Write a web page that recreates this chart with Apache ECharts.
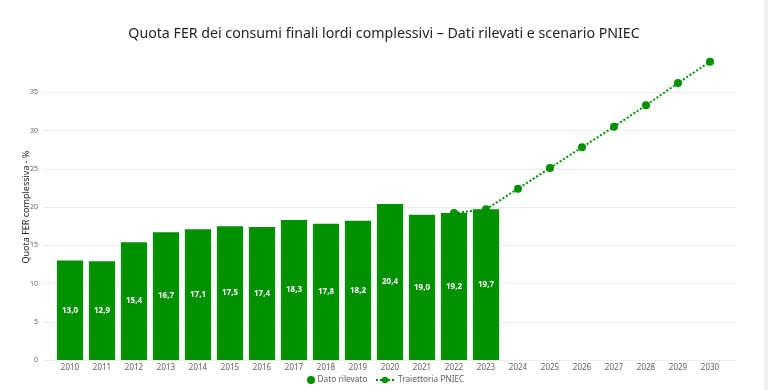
<!DOCTYPE html>
<html>
<head>
<meta charset="utf-8">
<script src="https://cdn.jsdelivr.net/npm/echarts@6/dist/echarts.min.js"></script>
<style>
html,body{margin:0;padding:0;background:#fff;}
#c{width:768px;height:390px;}
</style>
</head>
<body>
<div id="c"></div>
<script>
const years = ['2010','2011','2012','2013','2014','2015','2016','2017','2018','2019','2020','2021','2022','2023','2024','2025','2026','2027','2028','2029','2030'];
const datoRilevato = [13.0,12.9,15.4,16.7,17.1,17.5,17.4,18.3,17.8,18.2,20.4,19.0,19.2,19.7,null,null,null,null,null,null,null];
const traiettoria = [null,null,null,null,null,null,null,null,null,null,null,null,19.2,19.7,22.4,25.1,27.8,30.5,33.3,36.2,39.0];
const yTicks = [0,5,10,15,20,25,30,35];

const GREEN = '#009100';
const FONT = '"Noto Sans", "Open Sans", sans-serif';
const chart = echarts.init(document.getElementById('c'), null, {renderer:'canvas'});
chart.setOption({
  backgroundColor:'#ffffff',
  animation:false,
  textStyle:{fontFamily:FONT},
  title:{
    text:'Quota FER dei consumi finali lordi complessivi – Dati rilevati e scenario PNIEC',
    left:'center', top:22,
    textStyle:{fontFamily:FONT,fontSize:14.2,fontWeight:'normal',color:'#252423'}
  },
  legend:[
    {
      bottom:1, left:302,
      itemGap:0, itemWidth:9, itemHeight:8,
      textStyle:{fontFamily:FONT,fontSize:8.3,color:'#605E5C',padding:[0,0,0,-3]},
      data:[{name:'Dato rilevato',icon:'circle'}]
    },
    {
      bottom:1, left:370,
      itemGap:0, itemWidth:18, itemHeight:8,
      textStyle:{fontFamily:FONT,fontSize:8.3,color:'#605E5C',padding:[0,0,0,-1]},
      data:[{name:'Traiettoria PNIEC'}]
    }
  ],
  graphic:[{type:'rect',shape:{x:764,y:0,width:4,height:390},style:{fill:'#eef0ee'},silent:true}],
  grid:[
    {left:43,right:32,top:54,bottom:30},
    {left:54,right:42,top:54,bottom:30}
  ],
  xAxis:[
    {type:'category',gridIndex:0,data:years,show:false},
    {type:'category',gridIndex:1,data:years,
      axisLine:{show:false},axisTick:{show:false},
      axisLabel:{fontFamily:FONT,fontSize:8,color:'#605E5C',margin:4}}
  ],
  yAxis:[
    {type:'value',gridIndex:0,min:0,max:40,interval:5,
      name:'Quota FER complessiva - %',nameLocation:'middle',nameGap:12,nameMoveOverlap:false,
      nameTextStyle:{fontFamily:FONT,fontSize:9,color:'#252423'},
      axisLine:{show:false},axisTick:{show:false},
      axisLabel:{fontFamily:FONT,fontSize:7,color:'#605E5C',margin:5,showMaxLabel:false,
        formatter:v=>yTicks.indexOf(v)>=0?String(v):''},
      splitLine:{show:true,showMaxLine:false,lineStyle:{color:'#dcdcdc',type:'dotted',width:1}}
    },
    {type:'value',gridIndex:1,min:0,max:40,interval:5,show:false,splitLine:{show:false}}
  ],
  series:[
    {
      name:'Dato rilevato',type:'bar',xAxisIndex:1,yAxisIndex:1,
      data:datoRilevato,barCategoryGap:'18%',z:3,
      itemStyle:{color:GREEN},
      label:{show:true,position:'inside',color:'#ffffff',fontFamily:FONT,fontSize:8,fontWeight:'bold',
        formatter:p=>p.value==null?'':p.value.toFixed(1).replace('.',',')}
    },
    {
      name:'Traiettoria PNIEC',type:'line',xAxisIndex:1,yAxisIndex:1,
      data:traiettoria,z:2,connectNulls:false,
      symbol:'circle',symbolSize:8,showAllSymbol:true,
      itemStyle:{color:GREEN},
      lineStyle:{color:GREEN,width:2,type:'dotted'}
    }
  ]
});
</script>
</body>
</html>
